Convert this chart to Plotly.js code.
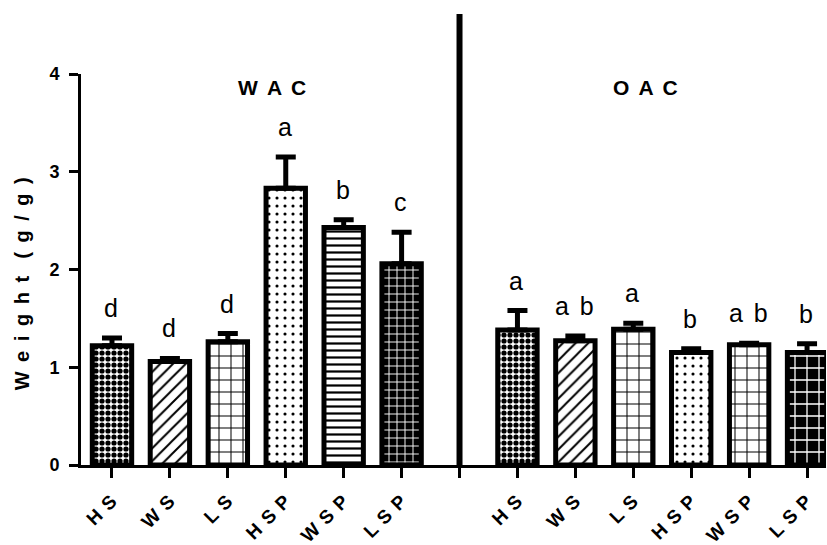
<!DOCTYPE html>
<html>
<head>
<meta charset="utf-8">
<script src="https://cdn.plot.ly/plotly-3.0.1.min.js"></script>
<style>
  html, body { margin: 0; padding: 0; background: #fff; }
  #chart { width: 827px; height: 545px; }
  #chart svg .annotation-text { letter-spacing: 2px; }
  #chart svg .xtick text { letter-spacing: 1px; }
</style>
</head>
<body>
<div id="chart"></div>
<script>
// ---- data ----
const categories = ['HS', 'WS', 'LS', 'HSP', 'WSP', 'LSP'];
const groups = ['WAC', 'OAC'];
const wacMean = [1.22, 1.06, 1.26, 2.83, 2.43, 2.06];
const wacErr  = [0.08, 0.03, 0.085, 0.32, 0.08, 0.32];
const oacMean = [1.38, 1.27, 1.39, 1.15, 1.23, 1.15];
const oacErr  = [0.20, 0.05, 0.06, 0.04, 0.015, 0.09];
const wacLetters = ['d', 'd', 'd', 'a', 'b', 'c'];
const oacLetters = ['a', 'ab', 'a', 'b', 'ab', 'b'];
const yTicks = [0, 1, 2, 3, 4];

// ---- helpers ----
const spaced = s => s.split('').join(' ');
const FONT = 'Liberation Sans, Arial, sans-serif';
const n = categories.length;
const xWac = categories.map((_, i) => i);
const xOac = categories.map((_, i) => i + n + 1);
const sepX = n;

// patterns per category
const wacPattern = {
  shape:    ['.', '/', '+', '.', '-', '+'],
  size:     [6, 9, 12, 8, 7, 8],
  solidity: [0.6, 0.22, 0.16, 0.12, 0.32, 0.22],
  bgcolor:  ['white', 'white', 'white', 'white', 'white', 'black'],
  fgcolor:  ['black', 'black', 'black', 'black', 'black', 'white'],
  fillmode: 'replace'
};
const oacPattern = {
  shape:    ['.', '/', '+', '.', '+', '+'],
  size:     [6, 9, 12, 8, 12, 12],
  solidity: [0.6, 0.22, 0.16, 0.12, 0.16, 0.2],
  bgcolor:  ['white', 'white', 'white', 'white', 'white', 'black'],
  fgcolor:  ['black', 'black', 'black', 'black', 'black', 'white'],
  fillmode: 'replace'
};

function barTrace(name, x, y, err, pattern) {
  return {
    type: 'bar', name: name, x: x, y: y, width: 0.68,
    marker: { color: 'white', line: { color: 'black', width: 5 }, pattern: pattern },
    error_y: { type: 'data', array: err, arrayminus: err.map(() => 0), symmetric: false,
               color: 'black', thickness: 5, width: 10 },
    showlegend: false, hoverinfo: 'skip'
  };
}

const traces = [
  barTrace(groups[0], xWac, wacMean, wacErr, wacPattern),
  barTrace(groups[1], xOac, oacMean, oacErr, oacPattern)
];

const annotations = [];
function addLetters(x, means, errs, letters) {
  x.forEach((xv, i) => {
    annotations.push({
      x: xv, y: means[i] + errs[i], xref: 'x', yref: 'y',
      text: spaced(letters[i]), showarrow: false, yanchor: 'bottom', yshift: 14,
      font: { family: FONT, size: 25, color: 'black' }
    });
  });
}
addLetters(xWac, wacMean, wacErr, wacLetters);
addLetters(xOac, oacMean, oacErr, oacLetters);

const groupFont = { family: FONT, size: 21, color: 'black', weight: 'bold' };
annotations.push({ x: 2.78, y: 3.857, xref: 'x', yref: 'y', text: spaced(groups[0]),
  showarrow: false, yanchor: 'middle', font: groupFont });
annotations.push({ x: 9.22, y: 3.857, xref: 'x', yref: 'y', text: spaced(groups[1]),
  showarrow: false, yanchor: 'middle', font: groupFont });
annotations.push({ x: -0.079, y: 0.465, xref: 'paper', yref: 'paper', text: spaced('Weight') + '  ' + spaced('(g/g)'),
  textangle: -90, showarrow: false, xanchor: 'center', yanchor: 'middle',
  font: { family: FONT, size: 20, color: 'black', weight: 'bold' } });

const tickvals = [...xWac, sepX, ...xOac];
const ticktext = [...categories.map(spaced), '', ...categories.map(spaced)];

const layout = {
  width: 827, height: 545,
  margin: { l: 81, r: 1, t: 74, b: 80 },
  paper_bgcolor: 'white', plot_bgcolor: 'white',
  font: { family: FONT, color: 'black' },
  bargap: 0,
  xaxis: {
    range: [-0.535, 12.327], tickmode: 'array', tickvals: tickvals, ticktext: ticktext,
    tickangle: -45, ticks: 'outside', ticklen: 10, tickwidth: 3, tickcolor: 'black',
    showline: true, linewidth: 3, linecolor: 'black', showgrid: false, zeroline: false,
    tickfont: { family: FONT, size: 19, color: 'black', weight: 'bold' },
    ticklabelstandoff: 4, fixedrange: true
  },
  yaxis: {
    range: [0, 4], tickmode: 'array', tickvals: yTicks, ticktext: yTicks.map(String),
    ticks: 'outside', ticklen: 9, tickwidth: 3, tickcolor: 'black',
    showline: true, linewidth: 3, linecolor: 'black', showgrid: false, zeroline: false,
    tickfont: { family: FONT, size: 18, color: 'black', weight: 'bold' },
    ticklabelstandoff: 6, fixedrange: true
  },
  shapes: [{
    type: 'line', xref: 'x', yref: 'paper', x0: sepX, x1: sepX, y0: 0, y1: 1.1535,
    line: { color: 'black', width: 6 }
  }],
  annotations: annotations
};

Plotly.newPlot('chart', traces, layout, { displayModeBar: false, staticPlot: true });
</script>
</body>
</html>
